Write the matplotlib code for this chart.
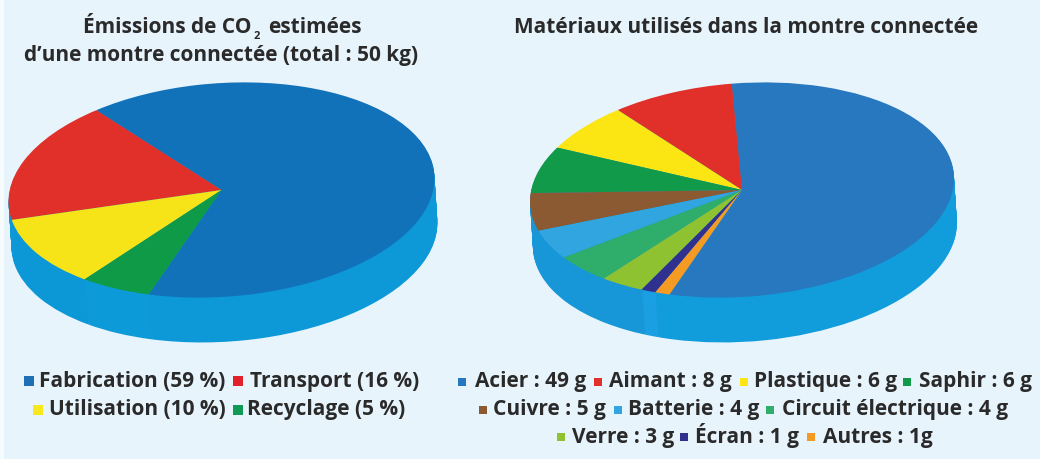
import matplotlib
matplotlib.use("Agg")
import matplotlib.pyplot as plt
from matplotlib.transforms import Affine2D
import numpy as np

plt.rcParams["font.family"] = ["Open Sans", "DejaVu Sans"]

# Left pie: CO2 emissions
co2_values = [59, 16, 10, 5]
co2_labels = ["Fabrication (59 %)", "Transport (16 %)", "Utilisation (10 %)", "Recyclage (5 %)"]
co2_colors = ["#1172ba", "#e1302a", "#f6e318", "#0f9a48"]
co2_legend_colors = ["#1f6fb5", "#e1202c", "#f8e71c", "#0f9a55"]
co2_rim = ["#0d98d8", "#0d98d8", "#0c97d6", "#0d9ad9"]

# Right pie: materials
mat_values = [49, 8, 6, 6, 5, 4, 4, 3, 1, 1]
mat_labels = ["Acier : 49 g", "Aimant : 8 g", "Plastique : 6 g", "Saphir : 6 g", "Cuivre : 5 g",
              "Batterie : 4 g", "Circuit électrique : 4 g", "Verre : 3 g", "Écran : 1 g", "Autres : 1g"]
mat_colors = ["#2778bf", "#e1302a", "#fbe614", "#119a49", "#8b5a33",
              "#31a5e0", "#2fae6b", "#8fc231", "#30308f", "#f59a23"]
mat_rim = ["#119cdc", "#1796d8", "#1796d8", "#1796d8", "#1796d8",
           "#1796d8", "#1796d8", "#1796d8", "#1a9fe2", "#119cdc"]

# legend layout in pixels (square x, square y, text x, baseline y)
co2_legend_pos = [(29, 382, 39, 387), (238, 382, 250, 387), (38, 411, 49, 415), (238, 411, 247, 415)]
mat_legend_pos = [(462, 383, 475, 387), (598, 383, 609, 387), (744, 383, 754, 387), (907, 383, 919, 387),
                  (483, 411, 493, 415), (618, 411, 628, 415), (770, 411, 782, 415),
                  (561, 438, 572, 443), (684, 438, 695, 443), (811, 438, 823, 443)]

W, H = 1040, 460
RIM = 45
TILT = 0.054
fig = plt.figure(figsize=(W / 100, H / 100), dpi=100, facecolor="#e8f4fc")


def draw_pie(values, colors, rim, cx, cy, rx, ry, start):
    # top of the pie is squashed by stretching the axes; rim is a stack of pies
    left = (cx - rx) / W
    bottom = 1 - (cy + ry + RIM) / H
    ax = fig.add_axes([left, bottom, 2 * rx / W, (2 * ry + RIM) / H])
    dy = 1.0 / ry
    dx = 0.065 / rx
    for k in np.arange(RIM, 0, -1):
        ax.pie(values, colors=rim, startangle=start, center=(k * dx, -k * dy), radius=1)
    ax.pie(values, colors=colors, startangle=start, center=(0, 0), radius=1)
    ax.set_aspect("auto")
    ax.set_xlim(-1, 1)
    ax.set_ylim(-1 - RIM * dy, 1)
    ax.axis("off")
    # the reference ellipse leans a little, right side up
    shear = Affine2D().skew(0, np.arctan(TILT * rx / ry))
    for w in ax.patches:
        w.set_transform(shear + ax.transData)
        w.set_clip_on(False)


draw_pie(co2_values, co2_colors, co2_rim, 221.5, 191, 213, 107, 250)
draw_pie(mat_values, mat_colors, mat_rim, 742, 191, 212, 107, 250)

# overlay in pixel coordinates for the text
ov = fig.add_axes([0, 0, 1, 1])
ov.set_xlim(0, W)
ov.set_ylim(H, 0)
ov.axis("off")
ov.patch.set_alpha(0)
ov.axvspan(0, 4, color="#f6fbfe", lw=0)

txt = "#2a2a2a"
ts = 15
ls = 15
ov.text(83, 33, "Émissions de CO", ha="left", va="baseline", fontsize=ts, fontweight="bold", color=txt)
ov.text(257, 39, "2", ha="center", va="baseline", fontsize=8, fontweight="bold", color=txt)
ov.text(268, 33, "estimées", ha="left", va="baseline", fontsize=ts, fontweight="bold", color=txt)
ov.text(221, 61, "d’une montre connectée (total : 50 kg)", ha="center", va="baseline",
        fontsize=ts, fontweight="bold", color=txt)
ov.text(746, 33, "Matériaux utilisés dans la montre connectée", ha="center", va="baseline",
        fontsize=ts, fontweight="bold", color=txt)

for lab, col, (sx, sy, tx, y) in zip(co2_labels, co2_legend_colors, co2_legend_pos):
    ov.plot([sx], [sy], "s", ms=6.5, color=col, mew=0)
    ov.text(tx, y, lab, ha="left", va="baseline", fontsize=ls, fontweight="bold", color=txt)

for lab, col, (sx, sy, tx, y) in zip(mat_labels, mat_colors, mat_legend_pos):
    ov.plot([sx], [sy], "s", ms=5.5, color=col, mew=0)
    ov.text(tx, y, lab, ha="left", va="baseline", fontsize=ls, fontweight="bold", color=txt)

fig.savefig("out.png", dpi=100, facecolor=fig.get_facecolor())
